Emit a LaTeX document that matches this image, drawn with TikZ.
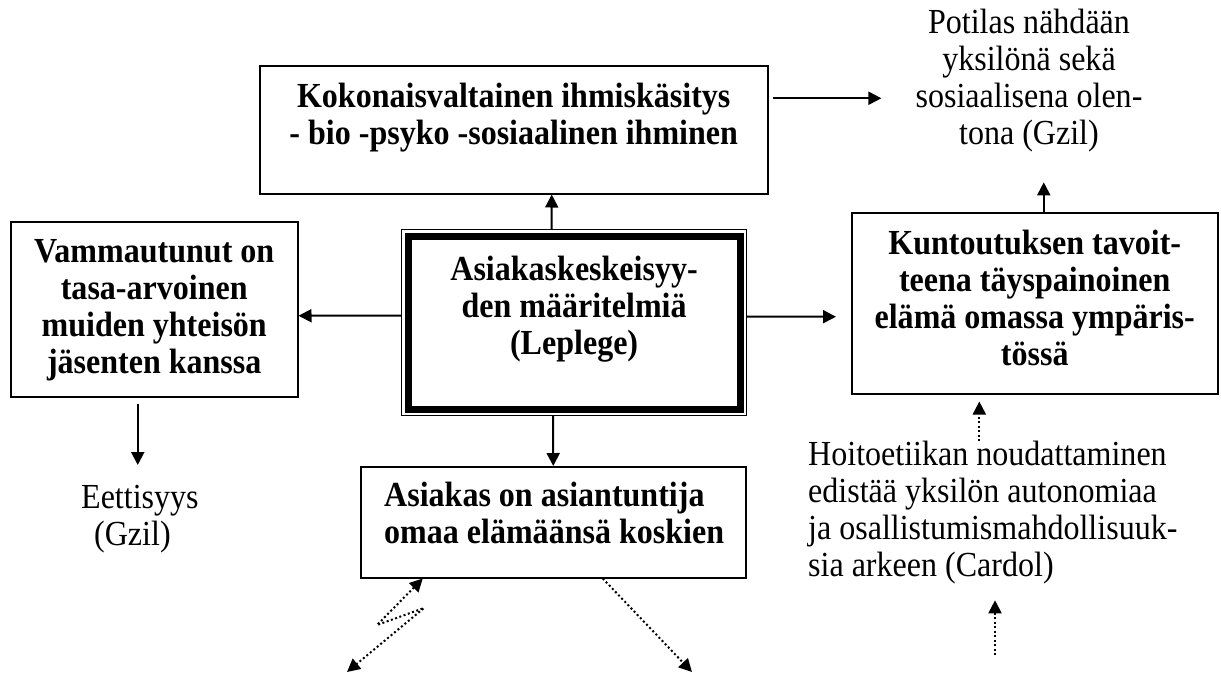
\documentclass[tikz,border=0pt]{standalone}
\usepackage{fontspec}
\setmainfont{Liberation Serif}[FakeStretch=0.91]
\usetikzlibrary{positioning,arrows.meta}

\tikzset{
    >={Triangle[length=13pt,width=13pt]},
    box/.style={draw, line width=1.5pt, inner sep=0pt, anchor=north west},
    teksti/.style={inner sep=0pt, font=\fontsize{35.2}{37}\selectfont},
    lihava/.style={inner sep=0pt, font=\fontsize{35.2}{37}\selectfont\bfseries},
    nuoli/.style={->, line width=2pt},
    pisteet/.style={->, line width=2pt, dash pattern=on 2pt off 2.5pt},
}

\begin{document}
\begin{tikzpicture}[x=1pt, y=-1pt]
    \useasboundingbox (0,0) rectangle (1221,673);

    \node [box, minimum width=508pt, minimum height=128pt] (ihminen) at (259,65) {};
    \node [box, line width=1.2pt, minimum width=345pt, minimum height=186pt] (keskus) at (401,229) {};
    \draw [line width=7pt] ([shift={(7pt,-7pt)}]keskus.north west) rectangle ([shift={(-7pt,7pt)}]keskus.south east);
    \node [box, minimum width=287pt, minimum height=175pt] (tasa) at (10,221) {};
    \node [box, minimum width=366pt, minimum height=181pt] (tavoite) at (851,212) {};
    \node [box, minimum width=385pt, minimum height=111pt] (asiantuntija) at (360,466) {};

    \node [lihava, align=center, below=18pt of ihminen.north] (ihminen-t) {Kokonaisvaltainen ihmiskäsitys\\- bio -psyko -sosiaalinen ihminen};
    \node [lihava, align=center, below=27pt of keskus.north] (keskus-t) {Asiakaskeskeisyy-\\den määritelmiä\\(Leplege)};
    \node [lihava, align=center, below=18pt of tasa.north] (tasa-t) {Vammautunut on\\tasa-arvoinen\\muiden yhteisön\\jäsenten kanssa};
    \node [lihava, align=center, below=18pt of tavoite.north] (tavoite-t) {Kuntoutuksen tavoit-\\teena täyspainoinen\\elämä omassa ympäris-\\tössä};
    \node [lihava, align=left, below right=16pt and 24pt of asiantuntija.north west] (asiantuntija-t) {Asiakas on asiantuntija\\omaa elämäänsä koskien};

    \node [teksti, align=center, anchor=north] (potilas) at (1029,9) {Potilas nähdään\\yksilönä sekä\\sosiaalisena olen-\\tona (Gzil)};
    \node [teksti, align=left, anchor=north west] (eettisyys) at (81,485) {Eettisyys\\\hspace*{13pt}(Gzil)};
    \node [teksti, align=left, anchor=north west] (hoito) at (808,441) {Hoitoetiikan noudattaminen\\edistää yksilön autonomiaa\\ja osallistumismahdollisuuk-\\sia arkeen (Cardol)};

    \draw [nuoli] ([xshift=-22.5pt]keskus.north) -- ([xshift=38pt]ihminen.south);
    \draw [nuoli] ([yshift=7pt]keskus.west) -- ([yshift=-6.5pt]tasa.east);
    \draw [nuoli, shorten >=15pt] ([yshift=6pt]keskus.east) -- ([yshift=-13.5pt]tavoite.west);
    \draw [nuoli] ([xshift=-21pt]keskus.south) -- (asiantuntija.north);
    \draw [nuoli, shorten <=6pt, shorten >=20pt] ([xshift=-16.5pt]tasa.south) -- ([xshift=-16.5pt]tasa.south |- eettisyys.north);
    \draw [nuoli, shorten >=30pt] ([xshift=9pt]tavoite.north) -- ([xshift=9pt]tavoite.north |- potilas.south);
    \draw [nuoli, shorten <=4pt, shorten >=34pt] ([yshift=31.5pt]ihminen.east) -- ([yshift=31.5pt]ihminen.east -| potilas.west);

    %\draw [pisteet] (hoito) -- (tavoite);
    \draw [pisteet, shorten >=7pt] ([xshift=-13.5pt]hoito.north) -- ([xshift=-13.5pt]hoito.north |- tavoite.south);
    \coordinate (arki) at (995,655);
    \draw [pisteet, shorten >=16pt] (arki) -- (arki |- hoito.south);
    \coordinate (mutka1) at (377,625);
    \coordinate (mutka2) at (424,608);
    \coordinate (vasen) at (347,672);
    \draw [pisteet, <->] ([xshift=-130.5pt]asiantuntija.south) -- (mutka1) -- (mutka2) -- (vasen);
    \coordinate (oikea) at (692,672);
    \draw [pisteet] ([xshift=49.5pt]asiantuntija.south) -- (oikea);
\end{tikzpicture}
\end{document}
